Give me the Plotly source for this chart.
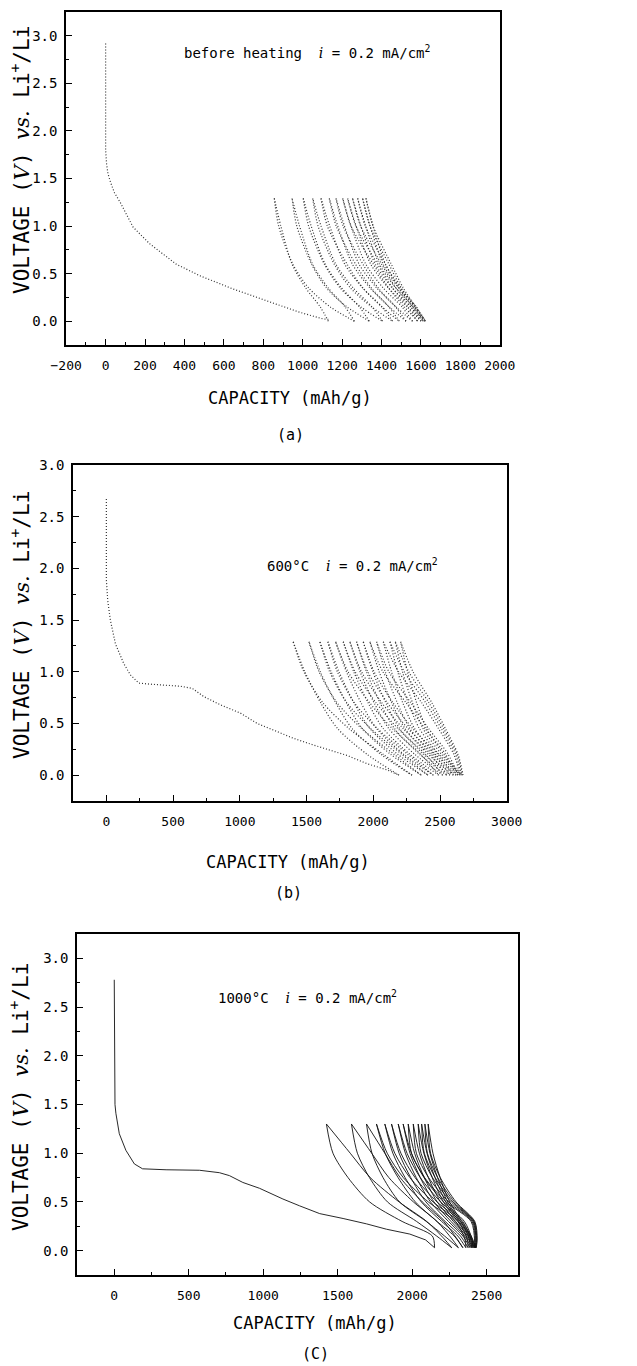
import plotly.graph_objects as go

W, H = 637, 1366
MONO = "DejaVu Sans Mono"
SERIF = "DejaVu Serif"

# ---------------- Panel (a): before heating ----------------
A_FIRST_X = [0, 0, 0, 5, 12, 25, 45, 74, 139, 223, 358, 476, 645, 865, 983, 1101, 1130]
A_FIRST_V = [2.92, 2.3, 1.8, 1.65, 1.55, 1.46, 1.35, 1.25, 0.99, 0.815, 0.60, 0.48, 0.34, 0.18, 0.095, 0.025, 0.02]
A_CHG_V = [0.0, 0.15, 0.35, 0.6, 1.0, 1.29]
A_CHG_X = [
    [1130, 1089, 1015, 946, 889, 856],
    [1262, 1215, 1129, 1050, 984, 946],
    [1338, 1288, 1197, 1114, 1043, 1003],
    [1405, 1352, 1256, 1168, 1093, 1051],
    [1456, 1402, 1304, 1213, 1137, 1093],
    [1490, 1437, 1341, 1252, 1178, 1135],
    [1524, 1471, 1375, 1286, 1212, 1169],
    [1557, 1504, 1408, 1320, 1245, 1203],
    [1583, 1530, 1434, 1345, 1271, 1228],
    [1600, 1548, 1454, 1368, 1295, 1253],
    [1611, 1561, 1472, 1389, 1319, 1279],
    [1618, 1571, 1486, 1408, 1342, 1304],
    [1622, 1577, 1496, 1420, 1357, 1321],
]
A_DIS_V = [1.29, 1.0, 0.6, 0.35, 0.15, 0.0]
A_DIS_X = [
    [856, 878, 950, 1030, 1140, 1262],
    [946, 970, 1045, 1120, 1225, 1338],
    [1003, 1030, 1110, 1190, 1295, 1405],
    [1051, 1078, 1160, 1242, 1350, 1456],
    [1093, 1125, 1225, 1305, 1402, 1490],
    [1135, 1170, 1268, 1348, 1440, 1524],
    [1169, 1205, 1305, 1383, 1474, 1557],
    [1203, 1245, 1358, 1436, 1516, 1583],
    [1228, 1270, 1380, 1456, 1535, 1600],
    [1253, 1294, 1400, 1473, 1549, 1611],
    [1279, 1318, 1419, 1488, 1559, 1618],
    [1304, 1341, 1437, 1500, 1567, 1622],
    [1321, 1357, 1449, 1510, 1573, 1625],
]

# ---------------- Panel (b): 600 °C ----------------
B_FIRST_X = [0, 0, 0, 10, 30, 68, 130, 180, 243, 330, 425, 555, 643, 730, 855, 1005,
             1130, 1280, 1405, 1555, 1680, 1805, 1955, 2105, 2193]
B_FIRST_V = [2.67, 2.3, 1.89, 1.69, 1.5, 1.27, 1.08, 0.97, 0.89, 0.88, 0.87, 0.86, 0.84, 0.76,
             0.68, 0.6, 0.5, 0.42, 0.355, 0.29, 0.24, 0.19, 0.11, 0.05, 0.0]
B_CHG_V = [0.0, 0.2, 0.45, 0.7, 1.0, 1.29]
B_CHG_X = [
    [2193, 1955, 1733, 1606, 1487, 1400],
    [2290, 2058, 1842, 1719, 1603, 1518],
    [2360, 2132, 1919, 1798, 1684, 1600],
    [2410, 2185, 1975, 1855, 1743, 1660],
    [2450, 2230, 2025, 1908, 1799, 1718],
    [2490, 2276, 2075, 1961, 1854, 1775],
    [2520, 2312, 2117, 2006, 1901, 1825],
    [2550, 2348, 2159, 2051, 1949, 1875],
    [2575, 2380, 2198, 2094, 1997, 1925],
    [2600, 2413, 2238, 2138, 2044, 1975],
    [2620, 2442, 2275, 2180, 2090, 2025],
    [2635, 2467, 2310, 2221, 2137, 2075],
    [2650, 2493, 2346, 2262, 2183, 2125],
    [2660, 2512, 2373, 2294, 2219, 2165],
    [2668, 2529, 2399, 2325, 2256, 2205],
]
B_DIS_V = [1.29, 1.0, 0.7, 0.45, 0.2, 0.0]
B_DIS_X = [
    [1400, 1480, 1623, 1818, 2076, 2290],
    [1518, 1594, 1729, 1914, 2158, 2360],
    [1600, 1673, 1803, 1981, 2216, 2410],
    [1660, 1731, 1858, 2031, 2260, 2450],
    [1718, 1811, 1973, 2143, 2359, 2490],
    [1775, 1864, 2021, 2185, 2393, 2520],
    [1825, 1912, 2064, 2224, 2427, 2550],
    [1875, 1959, 2106, 2260, 2456, 2575],
    [1925, 2006, 2148, 2296, 2485, 2600],
    [1975, 2072, 2246, 2388, 2543, 2620],
    [2025, 2117, 2281, 2415, 2562, 2635],
    [2075, 2190, 2363, 2489, 2604, 2650],
    [2125, 2232, 2393, 2510, 2617, 2660],
    [2165, 2266, 2417, 2527, 2628, 2668],
    [2205, 2298, 2439, 2541, 2635, 2672],
]

# ---------------- Panel (c): 1000 °C ----------------
C_FIRST_X = [0, 0, 0, 5, 11, 34, 78, 135, 190, 348, 572, 706, 773, 863, 975, 1132, 1244,
             1379, 1536, 1693, 1827, 1984, 2090, 2150]
C_FIRST_V = [2.78, 2.1, 1.68, 1.5, 1.41, 1.2, 1.03, 0.89, 0.84, 0.83, 0.825, 0.80, 0.77, 0.70,
             0.64, 0.53, 0.46, 0.38, 0.33, 0.275, 0.22, 0.17, 0.11, 0.03]
C_CHG_V = [0.03, 0.15, 0.3, 0.5, 0.75, 1.0, 1.3]
C_CHG_X = [
    [2150, 2135, 1932, 1714, 1569, 1468, 1424],
    [2265, 2164, 2029, 1834, 1713, 1632, 1592],
    [2310, 2217, 2094, 1915, 1804, 1730, 1693],
    [2340, 2282, 2166, 2021, 1905, 1818, 1760],
    [2360, 2306, 2197, 2061, 1952, 1870, 1816],
    [2375, 2324, 2221, 2092, 1990, 1912, 1861],
    [2388, 2340, 2243, 2123, 2027, 1954, 1906],
    [2398, 2352, 2260, 2146, 2054, 1985, 1939],
    [2406, 2363, 2276, 2168, 2081, 2016, 1973],
    [2413, 2372, 2291, 2190, 2108, 2048, 2007],
    [2418, 2380, 2305, 2210, 2134, 2078, 2040],
    [2422, 2386, 2314, 2225, 2153, 2099, 2063],
    [2425, 2391, 2323, 2238, 2170, 2119, 2085],
    [2428, 2396, 2332, 2251, 2187, 2139, 2107],
]
C_DIS_V = [1.3, 1.0, 0.75, 0.5, 0.3, 0.12, 0.03]
C_DIS_X = [
    [1424, 1584, 1718, 1912, 2097, 2215, 2265],
    [1592, 1728, 1843, 2008, 2166, 2267, 2310],
    [1693, 1816, 1919, 2068, 2211, 2301, 2340],
    [1760, 1832, 1940, 2108, 2288, 2354, 2360],
    [1816, 1883, 1984, 2140, 2308, 2369, 2375],
    [1861, 1924, 2019, 2167, 2325, 2383, 2388],
    [1906, 1965, 2054, 2191, 2339, 2393, 2398],
    [1939, 1995, 2079, 2210, 2350, 2401, 2406],
    [1973, 1995, 2083, 2228, 2395, 2418, 2413],
    [2007, 2028, 2110, 2245, 2402, 2423, 2418],
    [2040, 2059, 2136, 2262, 2408, 2427, 2422],
    [2063, 2081, 2154, 2273, 2412, 2430, 2425],
    [2085, 2102, 2171, 2284, 2416, 2433, 2428],
    [2107, 2123, 2188, 2294, 2420, 2436, 2430],
]

# Axis settings (ranges, ticks) per panel
X_RANGES = [[-201, 2001], [-250, 3002], [-250, 2710]]
Y_RANGES = [[-0.25, 3.25], [-0.25, 3.0], [-0.25, 3.25]]
X_DTICK = [200, 500, 500]
X_MINOR = [100, 250, 250]
PANEL_LETTERS = ["(a)", "(b)", "(C)"]
CONDITIONS = ["before heating", "600°C", "1000°C"]
COND_POS = [(390, 2.83), (1185, 2.03), (686, 2.6)]

# pixel boxes of the three plot areas: left, right, top, bottom
BOXES = [(66, 500, 12, 345), (73, 507, 465, 801), (77, 518, 934, 1275)]
XTITLE_POS = [(290, 398), (288, 862), (315, 1323)]
LETTER_POS = [(290, 435), (288, 893), (315, 1354)]
YTITLE_POS = [(20, 160), (20, 625), (19, 1097)]

fig = go.Figure()

panels = [
    (A_FIRST_X, A_FIRST_V, A_CHG_X, A_CHG_V, A_DIS_X, A_DIS_V),
    (B_FIRST_X, B_FIRST_V, B_CHG_X, B_CHG_V, B_DIS_X, B_DIS_V),
    (C_FIRST_X, C_FIRST_V, C_CHG_X, C_CHG_V, C_DIS_X, C_DIS_V),
]

for i, (fx, fv, cx, cv, dx, dv) in enumerate(panels):
    xa = "x" if i == 0 else f"x{i+1}"
    ya = "y" if i == 0 else f"y{i+1}"
    if i < 2:
        line = dict(color="#333333", width=1.2, dash="1px,2px")
    else:
        line = dict(color="#111111", width=0.9)
    fig.add_trace(go.Scatter(x=fx, y=fv, mode="lines", line=line, xaxis=xa, yaxis=ya,
                             showlegend=False, hoverinfo="skip"))
    for k in range(len(cx)):
        fig.add_trace(go.Scatter(x=cx[k], y=cv, mode="lines", line=dict(shape="spline", smoothing=0.8, **line),
                                 xaxis=xa, yaxis=ya, showlegend=False, hoverinfo="skip"))
        fig.add_trace(go.Scatter(x=dx[k], y=dv, mode="lines", line=dict(shape="spline", smoothing=0.8, **line),
                                 xaxis=xa, yaxis=ya, showlegend=False, hoverinfo="skip"))

layout = dict(
    width=W, height=H, autosize=False,
    margin=dict(l=0, r=0, t=0, b=0, pad=0),
    paper_bgcolor="white", plot_bgcolor="white",
    showlegend=False,
)
annotations = []
for i in range(3):
    l, r, t, b = BOXES[i]
    xkey = "xaxis" if i == 0 else f"xaxis{i+1}"
    ykey = "yaxis" if i == 0 else f"yaxis{i+1}"
    xa = "x" if i == 0 else f"x{i+1}"
    ya = "y" if i == 0 else f"y{i+1}"
    layout[xkey] = dict(
        domain=[l / W, r / W], anchor=ya, range=X_RANGES[i],
        tick0=0, dtick=X_DTICK[i], tickformat="d",
        ticks="inside", ticklen=6, tickwidth=1, tickcolor="black",
        minor=dict(ticks="inside", ticklen=3, dtick=X_MINOR[i], tick0=0, tickcolor="black", showgrid=False),
        showline=True, linewidth=1.5, linecolor="black", mirror=True,
        showgrid=False, zeroline=False, automargin=False,
        tickfont=dict(family=MONO, size=13, color="black"),
        ticklabelstandoff=8,
    )
    layout[ykey] = dict(
        domain=[1 - b / H, 1 - t / H], anchor=xa, range=Y_RANGES[i],
        tick0=0, dtick=0.5, tickformat=".1f",
        ticks="inside", ticklen=6, tickwidth=1, tickcolor="black",
        minor=dict(ticks="inside", ticklen=3, dtick=0.25, tick0=0, tickcolor="black", showgrid=False),
        showline=True, linewidth=1.5, linecolor="black", mirror=True,
        showgrid=False, zeroline=False, automargin=False,
        tickfont=dict(family=MONO, size=14, color="black"),
        ticklabelstandoff=4,
    )
    xt = XTITLE_POS[i]
    annotations.append(dict(x=xt[0] / W, y=1 - xt[1] / H, xref="paper", yref="paper",
                            text="CAPACITY (mAh/g)", showarrow=False,
                            font=dict(family=MONO, size=17, color="black"),
                            xanchor="center", yanchor="middle"))
    lp = LETTER_POS[i]
    annotations.append(dict(x=lp[0] / W, y=1 - lp[1] / H, xref="paper", yref="paper",
                            text=PANEL_LETTERS[i], showarrow=False,
                            font=dict(family=MONO, size=15, color="black"),
                            xanchor="center", yanchor="middle"))
    yt = YTITLE_POS[i]
    annotations.append(dict(
        x=yt[0] / W, y=1 - yt[1] / H, xref="paper", yref="paper", textangle=-90,
        text=("VOLTAGE (<span style=\"font-family:'DejaVu Serif';font-style:italic\">V</span>) "
              "<span style=\"font-family:'DejaVu Serif';font-style:italic;font-weight:normal\">vs.</span> "
              "Li<sup>+</sup>/Li"),
        showarrow=False, font=dict(family=MONO, size=21, color="black"),
        xanchor="center", yanchor="middle"))
    cp = COND_POS[i]
    annotations.append(dict(
        x=cp[0], y=cp[1], xref=xa, yref=ya, xanchor="left", yanchor="middle",
        text=(CONDITIONS[i] + "\u00a0\u00a0"
              "<span style=\"font-family:'DejaVu Serif';font-style:italic\">i</span> = 0.2 mA/cm<sup>2</sup>"),
        showarrow=False, font=dict(family=MONO, size=14, color="black")))

layout["annotations"] = annotations
fig.update_layout(**layout)
fig.write_html("out.html")
